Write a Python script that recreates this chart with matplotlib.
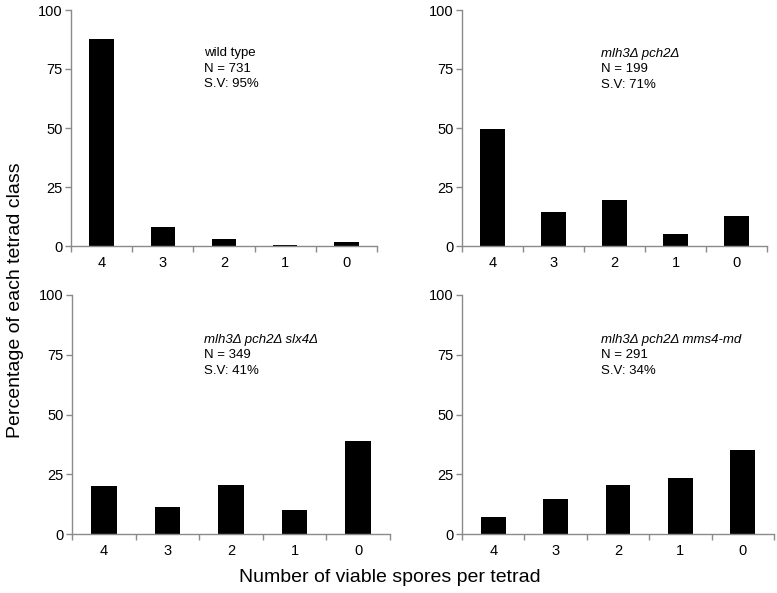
import matplotlib
matplotlib.use("Agg")
import matplotlib.pyplot as plt
import numpy as np

plt.rcParams['font.family'] = ['Liberation Sans', 'DejaVu Sans']

categories = ["4", "3", "2", "1", "0"]
wild_type = [87.8, 8.0, 2.8, 0.4, 1.9]
mlh3_pch2 = [49.5, 14.3, 19.3, 5.1, 12.6]
mlh3_pch2_slx4 = [20.0, 11.3, 20.7, 10.0, 38.8]
mlh3_pch2_mms4 = [7.1, 14.6, 20.5, 23.5, 35.3]

names = ["wild type", "mlh3\u0394 pch2\u0394", "mlh3\u0394 pch2\u0394 slx4\u0394", "mlh3\u0394 pch2\u0394 mms4-md"]
italic = [False, True, True, True]
n_vals = ["731", "199", "349", "291"]
sv_vals = ["95%", "71%", "41%", "34%"]

W, H = 777, 593
fig = plt.figure(figsize=(W / 100, H / 100), dpi=100)

# axes boxes in pixels: left, right, top, bottom
boxes = [(71, 377, 10, 246), (462, 767, 10, 246), (72, 390, 295, 534), (462, 774, 295, 534)]
text_pos = [(204, 53), (601, 54), (204, 340), (601, 340)]
series = [wild_type, mlh3_pch2, mlh3_pch2_slx4, mlh3_pch2_mms4]
spine_col = "#8a8a8a"

for i, (vals, (l, r, t, b)) in enumerate(zip(series, boxes)):
    ax = fig.add_axes([l / W, 1 - b / H, (r - l) / W, (b - t) / H])
    x = np.arange(len(categories))
    ax.bar(x, vals, width=0.4, color="black")
    ax.set_xlim(-0.5, len(categories) - 0.5)
    ax.set_ylim(0, 100)
    ax.set_yticks([0, 25, 50, 75, 100])
    ax.spines['top'].set_visible(False)
    ax.spines['right'].set_visible(False)
    for s in ['left', 'bottom']:
        ax.spines[s].set_color(spine_col)
        ax.spines[s].set_linewidth(1.0)
    ax.set_xticks(np.arange(-0.5, len(categories)), labels=[])
    ax.set_xticks(x, labels=categories, minor=True)
    ax.tick_params(axis='x', which='major', direction='out', length=4, color=spine_col, width=1)
    ax.tick_params(axis='x', which='minor', length=0, labelsize=10.5, pad=7)
    ax.tick_params(axis='y', direction='out', length=4, color=spine_col, width=1, labelsize=10.5, pad=2)
    tx, ty = text_pos[i]
    fx, fy = tx / W, 1 - ty / H
    dy = 15.5 / H
    fig.text(fx, fy, names[i], fontsize=9.5, style='italic' if italic[i] else 'normal', va='center', ha='left')
    fig.text(fx, fy - dy, "N = " + n_vals[i], fontsize=9.5, va='center', ha='left')
    fig.text(fx, fy - 2 * dy, "S.V: " + sv_vals[i], fontsize=9.5, va='center', ha='left')

fig.text(16 / W, 1 - 300 / H, "Percentage of each tetrad class", rotation=90, fontsize=14, va='center', ha='center')
fig.text(390 / W, 1 - 578 / H, "Number of viable spores per tetrad", fontsize=14, va='center', ha='center')

fig.savefig("out.png", dpi=100)
